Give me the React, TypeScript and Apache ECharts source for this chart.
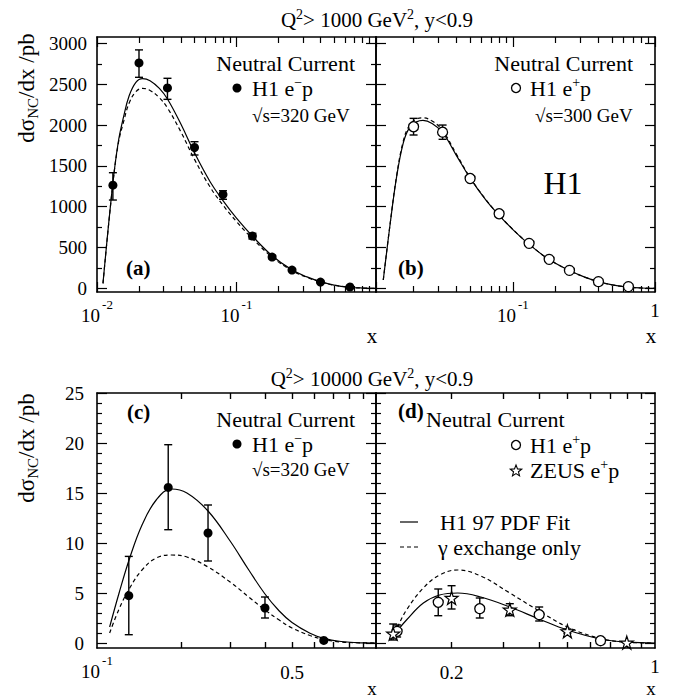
import React, { useEffect, useRef } from 'react';
import * as echarts from 'echarts';

const SERIF = 'Liberation Serif, Times New Roman, Times, serif';

// ---------- Panel (a): Q2 > 1000, H1 e-p, sqrt(s)=320 ----------
const aX = [0.013, 0.02, 0.032, 0.05, 0.08, 0.13, 0.18, 0.25, 0.4, 0.65];
const aY = [1264, 2762, 2456, 1726, 1150, 640, 383, 224, 77, 16];
const aLo = [1082, 2586, 2316, 1634, 1091, 605, 362, 210, 70, 12];
const aHi = [1417, 2922, 2574, 1797, 1196, 675, 404, 238, 84, 20];
const aFitX = [0.01104, 0.0129, 0.0142, 0.0155, 0.017, 0.019, 0.0212, 0.024, 0.028, 0.032, 0.04, 0.05, 0.065, 0.08, 0.1, 0.13, 0.18, 0.25, 0.32, 0.4, 0.5, 0.65, 0.8, 1.0];
const aFitY = [61, 1240, 1790, 2100, 2360, 2525, 2570, 2545, 2450, 2320, 2010, 1660, 1300, 1075, 860, 640, 400, 226, 140, 82, 40, 13, 3.5, 0];
const aGamY = [61, 1235, 1770, 2040, 2270, 2410, 2450, 2425, 2335, 2210, 1915, 1580, 1235, 1020, 818, 610, 383, 217, 134, 79, 38.5, 12.5, 3.4, 0];

// ---------- Panel (b): Q2 > 1000, H1 e+p, sqrt(s)=300 ----------
const bX = [0.02, 0.032, 0.05, 0.08, 0.13, 0.18, 0.25, 0.4, 0.65];
const bY = [1980, 1913, 1346, 914, 551, 355, 220, 82, 21];
const bLo = [1879, 1826, 1310, 890, 535, 343, 211, 76, 17];
const bHi = [2083, 2001, 1382, 938, 567, 367, 229, 88, 25];
const bFitX = [0.01224, 0.0137, 0.0152, 0.0169, 0.0186, 0.021, 0.0233, 0.027, 0.032, 0.04, 0.05, 0.065, 0.08, 0.1, 0.13, 0.18, 0.25, 0.32, 0.4, 0.5, 0.65, 0.8, 1.0];
const bFitY = [102, 797, 1368, 1777, 1960, 2040, 2058, 2020, 1910, 1630, 1350, 1075, 895, 720, 540, 352, 218, 138, 82, 43, 15, 4, 0];
const bGamY = [102, 800, 1380, 1800, 1990, 2075, 2090, 2050, 1935, 1645, 1358, 1080, 898, 722, 541, 353, 218, 138, 82, 43, 15, 4, 0];

// ---------- Panel (c): Q2 > 10000, H1 e-p, sqrt(s)=320 ----------
const cX = [0.13, 0.18, 0.25, 0.4, 0.65];
const cY = [4.73, 15.56, 11.0, 3.5, 0.26];
const cLo = [0.83, 11.33, 8.2, 2.5, 0.15];
const cHi = [8.66, 19.83, 13.8, 4.6, 0.4];
const cFitX = [0.111, 0.12, 0.131, 0.145, 0.163, 0.185, 0.21, 0.25, 0.3, 0.35, 0.4, 0.45, 0.5, 0.58, 0.65, 0.75, 0.85, 1.0];
const cFitY = [1.6, 5.0, 8.5, 11.8, 14.3, 15.4, 15.0, 13.2, 10.2, 7.3, 4.9, 3.2, 2.05, 0.98, 0.47, 0.15, 0.04, 0];
const cGamY = [1.0, 3.4, 5.5, 7.3, 8.5, 8.8, 8.6, 7.6, 6.1, 4.6, 3.3, 2.3, 1.5, 0.75, 0.35, 0.1, 0.03, 0];

// ---------- Panel (d): Q2 > 10000, H1 e+p and ZEUS e+p ----------
const dX = [0.13, 0.18, 0.25, 0.4, 0.65];
const dY = [1.17, 4.07, 3.43, 2.83, 0.23];
const dLo = [0.6, 2.73, 2.5, 2.2, 0.13];
const dHi = [1.8, 5.4, 4.5, 3.6, 0.33];
const zX = [0.126, 0.2, 0.317, 0.5, 0.8];
const zY = [0.93, 4.5, 3.33, 1.17, 0.04];
const zLo = [0.3, 3.4, 2.73, 0.95, 0.0];
const zHi = [1.9, 5.73, 3.93, 1.4, 0.1];
const dFitX = [0.124, 0.13, 0.14, 0.16, 0.182, 0.21, 0.252, 0.317, 0.4, 0.5, 0.65, 0.8, 1.0];
const dFitY = [0.4, 1.2, 2.3, 4.0, 4.8, 5.0, 4.6, 3.6, 2.4, 1.3, 0.4, 0.08, 0];
const dGamY = [0.3, 1.5, 3.3, 5.5, 6.8, 7.3, 6.7, 5.0, 3.2, 1.6, 0.45, 0.08, 0];

// ---------- ticks and labels ----------
const topXMajor = [0.01, 0.1, 1];
const topXMinor = [0.02, 0.03, 0.04, 0.05, 0.06, 0.07, 0.08, 0.09, 0.2, 0.3, 0.4, 0.5, 0.6, 0.7, 0.8, 0.9];
const aXLabels = [0.01, 0.1];
const bXLabels = [0.1, 1];
const topYMajor = [0, 500, 1000, 1500, 2000, 2500, 3000];
const topYMinor = [250, 750, 1250, 1750, 2250, 2750];
const botXTicks = [0.2, 0.3, 0.4, 0.5, 0.6, 0.7, 0.8, 0.9];
const cXLabels = [0.1, 0.5];
const dXLabels = [0.2, 1];
const botYMajor = [0, 5, 10, 15, 20, 25];
const botYMinor = [1, 2, 3, 4, 6, 7, 8, 9, 11, 12, 13, 14, 16, 17, 18, 19, 21, 22, 23, 24];

const pair = (xs: number[], ys: number[]) => xs.map((x, i) => [x, ys[i]]);

const fmtX = (v: number) => {
  const e = Math.round(Math.log10(v));
  if (Math.abs(v - Math.pow(10, e)) < 1e-9 && e < 0) return `{n|10}{s|${e}}`;
  if (Math.abs(v - 1) < 1e-9) return '{u|1}';
  return `{m|${Number(v.toPrecision(3))}}`;
};
const richX = {
  n: { fontFamily: SERIF, fontSize: 19, lineHeight: 34, color: '#000' },
  s: { fontFamily: SERIF, fontSize: 13, lineHeight: 12, verticalAlign: 'top', color: '#000', padding: [0, 0, 0, 2] },
  m: { fontFamily: SERIF, fontSize: 19, lineHeight: 14, verticalAlign: 'top', color: '#000', padding: [9, 0, 0, 0] },
  u: { fontFamily: SERIF, fontSize: 19, lineHeight: 14, verticalAlign: 'top', color: '#000', padding: [3, 0, 0, 0] },
};

function mkX(g: number, pos: string, min: number, max: number, ticks: number[], len: number, line: boolean, labels?: number[], margin = 6) {
  return {
    type: 'log', logBase: 10, gridIndex: g, position: pos, min, max,
    axisLine: { show: line, onZero: false, lineStyle: { color: '#000', width: 1.6 } },
    axisTick: { show: true, inside: true, length: len, customValues: ticks, lineStyle: { color: '#000', width: 1.2 } },
    axisLabel: labels
      ? { show: true, customValues: labels, margin, formatter: fmtX, rich: richX, color: '#000' }
      : { show: false },
    splitLine: { show: false }, minorTick: { show: false }, minorSplitLine: { show: false },
  };
}

function mkY(g: number, pos: string, min: number, max: number, ticks: number[], len: number, line: boolean, labels?: number[], margin = 10) {
  return {
    type: 'value', gridIndex: g, position: pos, min, max,
    axisLine: { show: line, onZero: false, lineStyle: { color: '#000', width: 1.6 } },
    axisTick: { show: true, inside: true, length: len, customValues: ticks, lineStyle: { color: '#000', width: 1.2 } },
    axisLabel: labels
      ? { show: true, customValues: labels, margin, fontFamily: SERIF, fontSize: 19, color: '#000', formatter: (v: number) => String(v) }
      : { show: false },
    splitLine: { show: false }, minorTick: { show: false }, minorSplitLine: { show: false },
  };
}

function errSeries(g: number, xs: number[], lo: number[], hi: number[]) {
  return {
    type: 'custom', xAxisIndex: 4 * g, yAxisIndex: 4 * g, silent: true, z: 3,
    data: xs.map((x, i) => [x, lo[i], hi[i]]),
    encode: { x: 0, y: [1, 2] },
    renderItem: (_p: any, api: any) => {
      const x = api.value(0);
      const p1 = api.coord([x, api.value(1)]);
      const p2 = api.coord([x, api.value(2)]);
      const st = { stroke: '#000', lineWidth: 1.4 };
      const w = 4;
      return {
        type: 'group',
        children: [
          { type: 'line', shape: { x1: p1[0], y1: p1[1], x2: p2[0], y2: p2[1] }, style: st },
          { type: 'line', shape: { x1: p1[0] - w, y1: p1[1], x2: p1[0] + w, y2: p1[1] }, style: st },
          { type: 'line', shape: { x1: p2[0] - w, y1: p2[1], x2: p2[0] + w, y2: p2[1] }, style: st },
        ],
      };
    },
  };
}

function lineSeries(g: number, name: string, xs: number[], ys: number[], dashed: boolean) {
  return {
    type: 'line', name, xAxisIndex: 4 * g, yAxisIndex: 4 * g, data: pair(xs, ys),
    showSymbol: false, smooth: 0.4, silent: true, z: 2,
    lineStyle: { color: '#000', width: 1.2, type: dashed ? [4, 3] : 'solid' },
  };
}

const STAR = 'path://M50,0 L61.8,35.3 L99,35.3 L69,57.3 L80.3,92.7 L50,70.8 L19.7,92.7 L31,57.3 L1,35.3 L38.2,35.3 Z';

function dots(g: number, name: string, xs: number[], ys: number[], kind: 'full' | 'open' | 'star') {
  const base: any = {
    type: 'scatter', name, xAxisIndex: 4 * g, yAxisIndex: 4 * g, data: pair(xs, ys), silent: true, z: 4,
  };
  if (kind === 'full') {
    base.symbol = 'circle'; base.symbolSize = 9; base.itemStyle = { color: '#000', opacity: 1 };
  } else if (kind === 'open') {
    base.symbol = 'circle'; base.symbolSize = 10; base.itemStyle = { color: '#fff', borderColor: '#000', borderWidth: 1.3, opacity: 1 };
  } else {
    base.symbol = STAR; base.symbolSize = 13; base.itemStyle = { color: '#fff', borderColor: '#000', borderWidth: 1.2, opacity: 1 };
  }
  return base;
}

const T = (x: number, y: number, text: string, size: number, align = 'left', extra: any = {}) => ({
  type: 'text', x, y, z: 10, silent: true,
  style: { text, fontFamily: SERIF, fontSize: size, fill: '#000', align, verticalAlign: 'middle', ...extra },
});

const supRich = (size: number, supSize: number) => ({
  t: { fontFamily: SERIF, fontSize: size, lineHeight: size + 4, fill: '#000', color: '#000' },
  s: { fontFamily: SERIF, fontSize: supSize, lineHeight: 10, verticalAlign: 'top', fill: '#000', color: '#000' },
});

const yTitleRich = {
  t: { fontFamily: SERIF, fontSize: 23, lineHeight: 28, fill: '#000', color: '#000' },
  sub: { fontFamily: SERIF, fontSize: 15, lineHeight: 14, verticalAlign: 'bottom', fill: '#000', color: '#000' },
};

function starPoints(cx: number, cy: number, R: number, r: number) {
  const pts: number[][] = [];
  for (let i = 0; i < 10; i++) {
    const ang = -Math.PI / 2 + (i * Math.PI) / 5;
    const rad = i % 2 === 0 ? R : r;
    pts.push([cx + rad * Math.cos(ang), cy + rad * Math.sin(ang)]);
  }
  return pts;
}

function buildOption() {
  const grids = [
    { left: 97, top: 37, width: 279, height: 255 },
    { left: 376, top: 37, width: 279, height: 255 },
    { left: 97, top: 393, width: 279, height: 255 },
    { left: 376, top: 393, width: 279, height: 255 },
  ];
  const yTop: [number, number] = [-45, 3080];
  const yBot: [number, number] = [-0.5, 25];
  const xr = [[0.01, 1], [0.01088, 1], [0.1, 1], [0.11, 1]];

  const xAxis = [
    mkX(0, 'bottom', xr[0][0], xr[0][1], topXMajor, 10, true, aXLabels),
    mkX(0, 'bottom', xr[0][0], xr[0][1], topXMinor, 6, false),
    mkX(0, 'top', xr[0][0], xr[0][1], topXMajor, 10, true),
    mkX(0, 'top', xr[0][0], xr[0][1], topXMinor, 6, false),
    mkX(1, 'bottom', xr[1][0], xr[1][1], topXMajor, 10, true, bXLabels),
    mkX(1, 'bottom', xr[1][0], xr[1][1], topXMinor, 6, false),
    mkX(1, 'top', xr[1][0], xr[1][1], topXMajor, 10, true),
    mkX(1, 'top', xr[1][0], xr[1][1], topXMinor, 6, false),
    mkX(2, 'bottom', xr[2][0], xr[2][1], botXTicks, 6, true, cXLabels, 6),
    mkX(2, 'bottom', xr[2][0], xr[2][1], botXTicks, 6, false),
    mkX(2, 'top', xr[2][0], xr[2][1], botXTicks, 6, true),
    mkX(2, 'top', xr[2][0], xr[2][1], botXTicks, 6, false),
    mkX(3, 'bottom', xr[3][0], xr[3][1], botXTicks, 6, true, dXLabels, 6),
    mkX(3, 'bottom', xr[3][0], xr[3][1], botXTicks, 6, false),
    mkX(3, 'top', xr[3][0], xr[3][1], botXTicks, 6, true),
    mkX(3, 'top', xr[3][0], xr[3][1], botXTicks, 6, false),
  ];
  const yAxis = [
    mkY(0, 'left', yTop[0], yTop[1], topYMajor, 10, true, topYMajor),
    mkY(0, 'left', yTop[0], yTop[1], topYMinor, 5, false),
    mkY(0, 'right', yTop[0], yTop[1], topYMajor, 10, true),
    mkY(0, 'right', yTop[0], yTop[1], topYMinor, 5, false),
    mkY(1, 'left', yTop[0], yTop[1], topYMajor, 10, true),
    mkY(1, 'left', yTop[0], yTop[1], topYMinor, 5, false),
    mkY(1, 'right', yTop[0], yTop[1], topYMajor, 10, true),
    mkY(1, 'right', yTop[0], yTop[1], topYMinor, 5, false),
    mkY(2, 'left', yBot[0], yBot[1], botYMajor, 10, true, botYMajor, 13),
    mkY(2, 'left', yBot[0], yBot[1], botYMinor, 5, false),
    mkY(2, 'right', yBot[0], yBot[1], botYMajor, 10, true),
    mkY(2, 'right', yBot[0], yBot[1], botYMinor, 5, false),
    mkY(3, 'left', yBot[0], yBot[1], botYMajor, 10, true),
    mkY(3, 'left', yBot[0], yBot[1], botYMinor, 5, false),
    mkY(3, 'right', yBot[0], yBot[1], botYMajor, 10, true),
    mkY(3, 'right', yBot[0], yBot[1], botYMinor, 5, false),
  ];

  const series = [
    lineSeries(0, 'H1 97 PDF Fit', aFitX, aFitY, false),
    lineSeries(0, 'γ exchange only', aFitX, aGamY, true),
    errSeries(0, aX, aLo, aHi),
    dots(0, 'H1 e-p', aX, aY, 'full'),

    lineSeries(1, 'H1 97 PDF Fit', bFitX, bFitY, false),
    lineSeries(1, 'γ exchange only', bFitX, bGamY, true),
    errSeries(1, bX, bLo, bHi),
    dots(1, 'H1 e+p', bX, bY, 'open'),

    lineSeries(2, 'H1 97 PDF Fit', cFitX, cFitY, false),
    lineSeries(2, 'γ exchange only', cFitX, cGamY, true),
    errSeries(2, cX, cLo, cHi),
    dots(2, 'H1 e-p', cX, cY, 'full'),

    lineSeries(3, 'H1 97 PDF Fit', dFitX, dFitY, false),
    lineSeries(3, 'γ exchange only', dFitX, dGamY, true),
    errSeries(3, dX, dLo, dHi),
    errSeries(3, zX, zLo, zHi),
    dots(3, 'H1 e+p', dX, dY, 'open'),
    dots(3, 'ZEUS e+p', zX, zY, 'star'),
  ];

  const r22 = supRich(22, 14);
  const graphic: any[] = [
    T(377, 20, '{t|Q}{s|2}{t|> 1000 GeV}{s|2}{t|, y<0.9}', 21, 'center', { rich: supRich(21, 14) }),
    T(372, 379, '{t|Q}{s|2}{t|> 10000 GeV}{s|2}{t|, y<0.9}', 21, 'center', { rich: supRich(21, 14) }),
    { ...T(26, 88, '{t|dσ}{sub|NC}{t|/dx /pb}', 23, 'center', { rich: yTitleRich }), rotation: Math.PI / 2 },
    { ...T(26, 448, '{t|dσ}{sub|NC}{t|/dx /pb}', 23, 'center', { rich: yTitleRich }), rotation: Math.PI / 2 },
    T(372, 336, 'x', 21, 'center'),
    T(651, 336, 'x', 21, 'center'),
    T(372, 688, 'x', 19, 'center'),
    T(651, 688, 'x', 19, 'center'),
    // panel (a)
    T(355, 63, 'Neutral Current', 22, 'right'),
    { type: 'circle', shape: { cx: 237, cy: 88, r: 4.5 }, style: { fill: '#000' }, z: 10 },
    T(252, 88, '{t|H1 e}{s|−}{t|p}', 22, 'left', { rich: r22 }),
    T(252, 115, '√s=320 GeV', 19, 'left'),
    T(126, 268, '(a)', 21, 'left', { fontWeight: 'bold' }),
    // panel (b)
    T(633, 63, 'Neutral Current', 22, 'right'),
    { type: 'circle', shape: { cx: 516, cy: 88, r: 4.5 }, style: { fill: '#fff', stroke: '#000', lineWidth: 1.3 }, z: 10 },
    T(530, 88, '{t|H1 e}{s|+}{t|p}', 22, 'left', { rich: r22 }),
    T(535, 115, '√s=300 GeV', 19, 'left'),
    T(563, 183, 'H1', 32, 'center'),
    T(398, 268, '(b)', 21, 'left', { fontWeight: 'bold' }),
    // panel (c)
    T(127, 412, '(c)', 21, 'left', { fontWeight: 'bold' }),
    T(355, 419, 'Neutral Current', 22, 'right'),
    { type: 'circle', shape: { cx: 237, cy: 444, r: 4.5 }, style: { fill: '#000' }, z: 10 },
    T(252, 444, '{t|H1 e}{s|−}{t|p}', 22, 'left', { rich: r22 }),
    T(252, 469, '√s=320 GeV', 19, 'left'),
    // panel (d)
    T(398, 411, '(d)', 21, 'left', { fontWeight: 'bold' }),
    T(426, 419, 'Neutral Current', 22, 'left'),
    { type: 'circle', shape: { cx: 516, cy: 445, r: 4.5 }, style: { fill: '#fff', stroke: '#000', lineWidth: 1.3 }, z: 10 },
    T(530, 445, '{t|H1 e}{s|+}{t|p}', 22, 'left', { rich: r22 }),
    { type: 'polygon', shape: { points: starPoints(516, 471, 6, 2.6) }, style: { fill: '#fff', stroke: '#000', lineWidth: 1.1 }, z: 10 },
    T(530, 470, '{t|ZEUS e}{s|+}{t|p}', 22, 'left', { rich: r22 }),
    { type: 'line', shape: { x1: 400, y1: 522, x2: 418, y2: 522 }, style: { stroke: '#000', lineWidth: 1.2 }, z: 10 },
    T(440, 522, 'H1 97 PDF Fit', 22, 'left'),
    { type: 'line', shape: { x1: 400, y1: 547, x2: 418, y2: 547 }, style: { stroke: '#000', lineWidth: 1.2, lineDash: [4, 3] }, z: 10 },
    T(438, 547, 'γ exchange only', 22, 'left'),
  ];

  return {
    animation: false,
    backgroundColor: '#fff',
    textStyle: { fontFamily: SERIF },
    grid: grids,
    xAxis,
    yAxis,
    series,
    graphic,
  };
}

export default function App() {
  const ref = useRef<HTMLDivElement>(null);
  useEffect(() => {
    if (!ref.current) return;
    const chart = echarts.init(ref.current, null, { renderer: 'svg' });
    chart.setOption(buildOption() as any);
    return () => chart.dispose();
  }, []);
  return (
    <div
      ref={ref}
      style={{ position: 'fixed', left: 0, top: 0, width: 686, height: 700, background: '#fff' }}
    />
  );
}
